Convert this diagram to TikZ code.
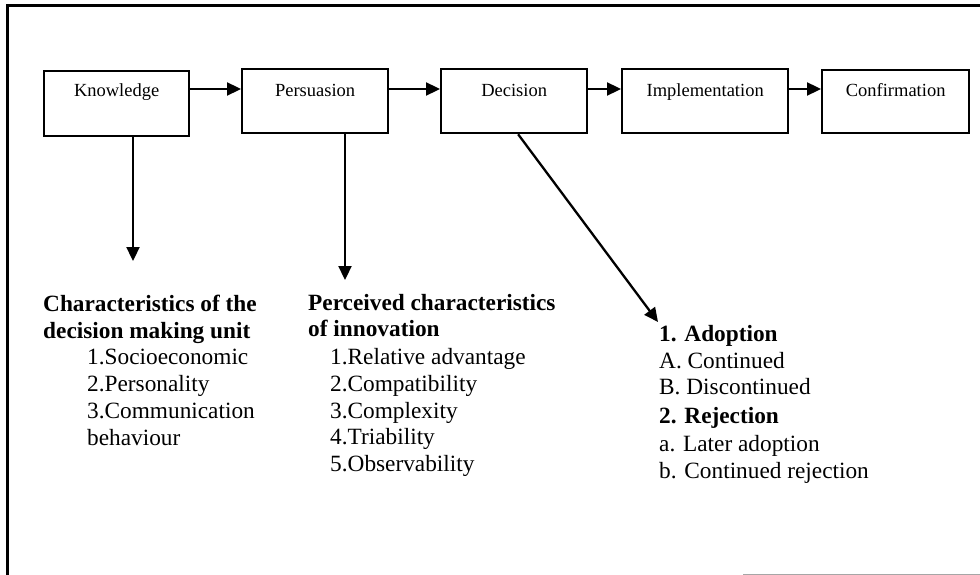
\documentclass[tikz,border=0pt]{standalone}
\usepackage{fontspec}
\setmainfont{Liberation Serif}
\usetikzlibrary{arrows.meta}
\begin{document}
\begin{tikzpicture}[x=1pt,y=-1pt,
  stage/.style={draw, line width=2.3pt, anchor=north west, inner sep=0pt,
    align=center, font=\fontsize{18.5}{22}\selectfont},
  flow/.style={line width=2.3pt, -{Triangle[length=14pt,width=13pt]}},
  head/.style={anchor=base west, inner sep=0pt, font=\fontsize{23.3}{27}\selectfont\bfseries},
  item/.style={anchor=base west, inner sep=0pt, font=\fontsize{23.3}{27}\selectfont},
]
\useasboundingbox (0,0) rectangle (980,575);
\fill[white] (0,0) rectangle (980,575);

% frame
\draw[line width=3pt] (7,576) -- (7,5.5) -- (982,5.5);
\draw[black!35, line width=1pt] (743,574) -- (982,574);

% stages of the process
\node[stage, minimum width=145pt, text height=25pt, text depth=40pt] (k) at (43,70) {Knowledge};
\node[stage, minimum width=146pt, text height=27pt, text depth=37pt] (p) at (241,68) {Persuasion};
\node[stage, minimum width=146pt, text height=27pt, text depth=37pt] (d) at (440,68) {Decision};
\node[stage, minimum width=166pt, text height=27pt, text depth=37pt] (i) at (621,68) {Implementation};
\node[stage, minimum width=147pt, text height=26pt, text depth=37pt] (c) at (821,69) {Confirmation};

% arrow level and free arrow ends
\coordinate (row) at (0,89);
\coordinate (kEnd) at (133,261);
\coordinate (pEnd) at (345,280);
\coordinate (dEnd) at (658,322);

\draw[flow] (k.east |- row) -- (p.west |- row);
\draw[flow] (p.east |- row) -- (d.west |- row);
\draw[flow] (d.east |- row) -- (i.west |- row);
\draw[flow] (i.east |- row) -- (c.west |- row);

\draw[flow] (k.south -| kEnd) -- (kEnd);
\draw[flow] (p.south -| pEnd) -- (pEnd);
\draw[flow] ([xshift=4pt]d.south) -- (dEnd);

% decision making unit
\node[head] (u1) at (43,311) {Characteristics of the};
\node[head] (u2) at (43,338) {decision making unit};
\node[item] (u3) at (87,364) {1.Socioeconomic};
\node[item] (u4) at (87,391) {2.Personality};
\node[item] (u5) at (87,418) {3.Communication};
\node[item] (u6) at (87,445) {behaviour};

% perceived characteristics
\node[head] (v1) at (308,310) {Perceived characteristics};
\node[head] (v2) at (308,336) {of innovation};
\node[item] (v3) at (330,364) {1.Relative advantage};
\node[item] (v4) at (330,391) {2.Compatibility};
\node[item] (v5) at (330,418) {3.Complexity};
\node[item] (v6) at (330,444) {4.Triability};
\node[item] (v7) at (330,471) {5.Observability};

% decision outcomes
\node[head] (w1) at (659,341) {1. Adoption};
\node[item] (w2) at (659,368) {A. Continued};
\node[item] (w3) at (659,394) {B. Discontinued};
\node[head] (w4) at (659,423) {2. Rejection};
\node[item] (w5) at (659,451) {a. Later adoption};
\node[item] (w6) at (659,478) {b. Continued rejection};
\end{tikzpicture}
\end{document}
